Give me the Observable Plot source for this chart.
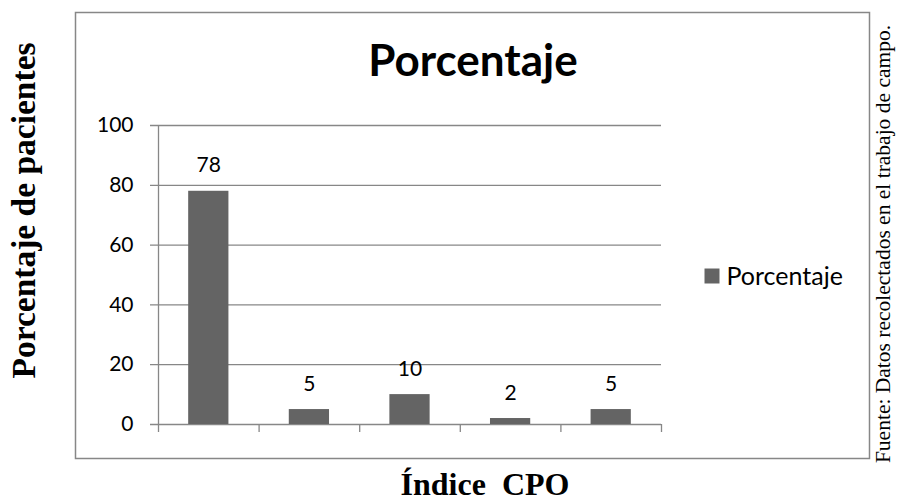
<!DOCTYPE html>
<html>
<head>
<meta charset="utf-8">
<script src="https://cdn.jsdelivr.net/npm/d3@7"></script>
<script src="https://cdn.jsdelivr.net/npm/@observablehq/plot@0.6"></script>
<style>
  html, body { margin: 0; padding: 0; background: #fff; }
  #chart svg { display: block; }
</style>
</head>
<body>
<div id="chart"></div>
<script>
// ---- Data ----
const categories = ["1", "2", "3", "4", "5"];
const values = [78, 5, 10, 2, 5];
const yTicks = [0, 20, 40, 60, 80, 100];
const chartTitle = "Porcentaje";
const seriesName = "Porcentaje";
const yLabel = "Porcentaje de pacientes";
const xLabel = "Índice\u00A0\u00A0CPO";
const sourceNote = "Fuente: Datos recolectados en el trabajo de campo.";

// ---- Derived table ----
const data = categories.map((c, i) => ({ c, i, v: values[i] }));
const boundaries = d3.range(categories.length + 1);

const gray = "#878787";
const barFill = "#646464";
const sans = "Lato, 'Open Sans', sans-serif";
const serif = "'Liberation Serif', 'DejaVu Serif', serif";

const chart = Plot.plot({
  width: 897,
  height: 501,
  marginLeft: 158,
  marginRight: 236,
  marginTop: 125,
  marginBottom: 77,
  style: { fontFamily: sans, fontSize: "21px", color: "#000", background: "#fff", overflow: "visible" },
  x: { type: "linear", domain: [0, categories.length], axis: null },
  y: { domain: [0, 100], ticks: yTicks, tickSize: 0, tickPadding: 25, label: null },
  marks: [
    // outer chart-area border
    Plot.frame({ stroke: gray, strokeWidth: 1.5, insetLeft: -83, insetTop: -113, insetRight: -208, insetBottom: -34 }),
    // horizontal gridlines with small left tick
    Plot.ruleY(yTicks, { stroke: gray, strokeWidth: 1.3, insetLeft: -8 }),
    // vertical axis line
    Plot.ruleX([0], { stroke: gray, strokeWidth: 1.3 }),
    // category boundary ticks below the axis
    Plot.ruleX(boundaries, { y1: 0, y2: 0, insetBottom: -8, stroke: gray, strokeWidth: 1.3 }),
    // bars
    Plot.rect(data, { x1: d => d.i + 0.3, x2: d => d.i + 0.7, y1: 0, y2: "v", fill: barFill }),
    // value labels
    Plot.text(data, { x: d => d.i + 0.5, y: "v", text: d => String(d.v), dy: -19, lineAnchor: "bottom", fontSize: 21, fill: "#000" }),
    // title
    Plot.text([chartTitle], { frameAnchor: "top", dx: 63, dy: -50, textAnchor: "middle", lineAnchor: "bottom", fontSize: 44, fontWeight: "bold", fill: "#000" }),
    // legend
    Plot.dot([seriesName], { frameAnchor: "right", dx: 50.5, dy: 1, symbol: "square", r: 15 / Math.sqrt(Math.PI), fill: barFill, stroke: "none" }),
    Plot.text([seriesName], { frameAnchor: "right", dx: 65, dy: 1.5, textAnchor: "start", lineAnchor: "middle", fontSize: 25, fill: "#000" }),
    // y-axis title
    Plot.text([yLabel], { frameAnchor: "left", dx: -124, dy: -64.5, rotate: -90, textAnchor: "middle", lineAnchor: "bottom", fontFamily: serif, fontWeight: "bold", fontSize: 33.5, fill: "#000" }),
    // x-axis title
    Plot.text([xLabel], { frameAnchor: "bottom", dx: 75, dy: 70, textAnchor: "middle", lineAnchor: "bottom", fontFamily: serif, fontWeight: "bold", fontSize: 32, fill: "#000" }),
    // source note
    Plot.text([sourceNote], { frameAnchor: "right", dx: 228, dy: -31, rotate: -90, textAnchor: "middle", lineAnchor: "bottom", fontFamily: serif, fontSize: 21.5, fill: "#000" })
  ]
});

document.getElementById("chart").appendChild(chart);
</script>
</body>
</html>
